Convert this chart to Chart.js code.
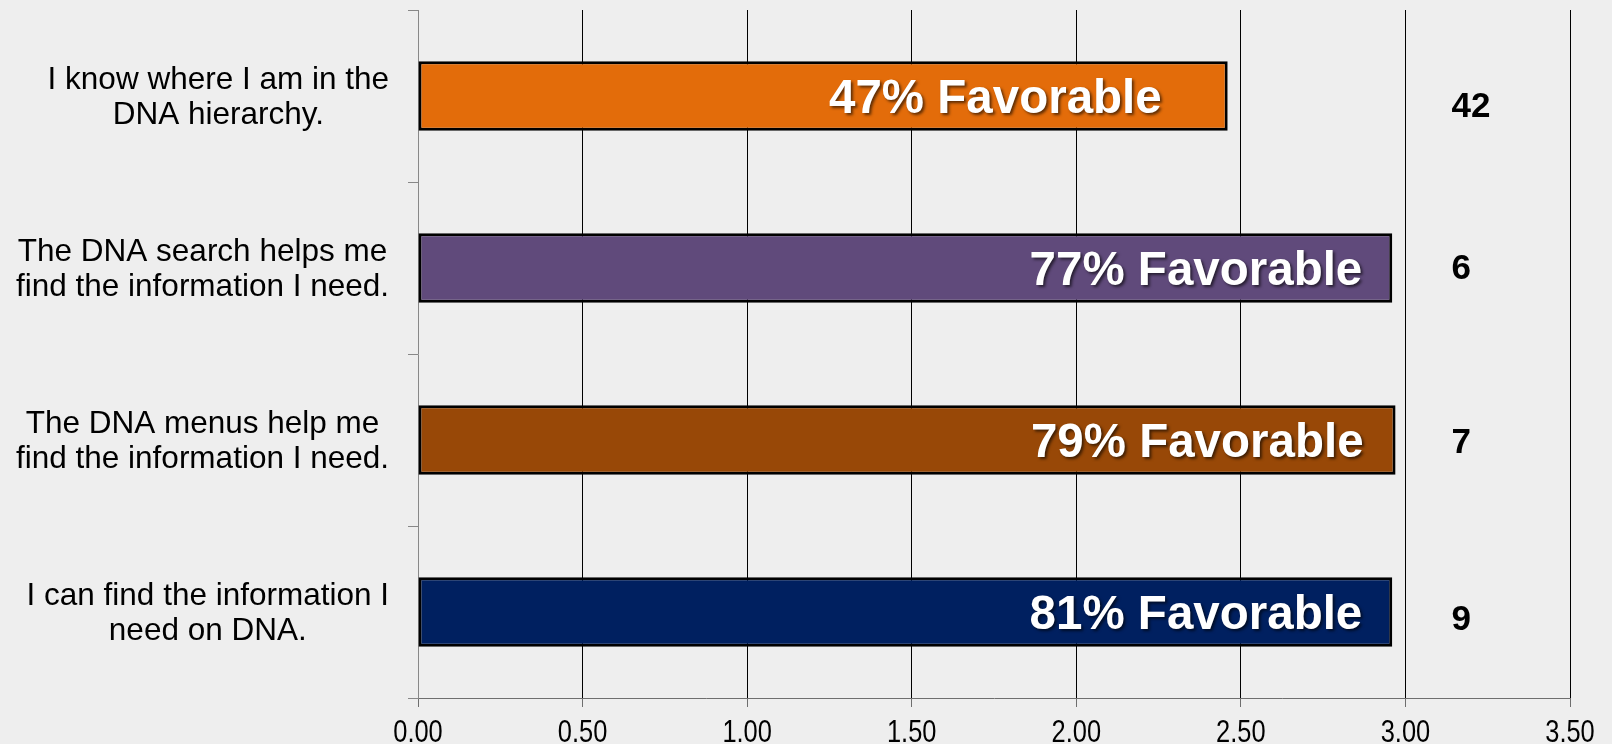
<!DOCTYPE html>
<html>
<head>
<meta charset="utf-8">
<script src="https://cdn.jsdelivr.net/npm/chart.js@4.4.1/dist/chart.umd.min.js"></script>
<style>
  html, body { margin: 0; padding: 0; background: #eeeeee; }
  #wrap { width: 1612px; height: 744px; position: relative; }
  canvas { display: block; }
</style>
</head>
<body>
<div id="wrap"><canvas id="c" width="1612" height="744"></canvas></div>
<script>
// ---- Data ----
const categories = [
  ["I know where I am in the", "DNA hierarchy."],
  ["The DNA search helps me", "find the information I need."],
  ["The DNA menus help me", "find the information I need."],
  ["I can find the information I", "need on DNA."]
];
const meanScores = [2.46, 2.96, 2.97, 2.96];
const favorableLabels = ["47% Favorable", "77% Favorable", "79% Favorable", "81% Favorable"];
const commentCounts = [42, 6, 7, 9];

// ---- Styles ----
const barColors = ["#E36C0A", "#604A7B", "#984807", "#002060"];
const labelInset = [66, 30, 32, 30];     // px from bar end to right of label text
const countDy = [8, -2, 0, 5];           // vertical nudge of the count numbers
const FONT = "'Liberation Sans', Arial, sans-serif";

const yLabelPlugin = {
  id: 'yLabels',
  afterDraw(chart) {
    const ctx = chart.ctx;
    const ys = chart.scales.y;
    ctx.save();
    ctx.font = "31.5px " + FONT;
    ctx.fillStyle = "#000";
    ctx.textAlign = "center";
    ctx.textBaseline = "alphabetic";
    categories.forEach((lines, i) => {
      const y = ys.getPixelForValue(i);
      const w = Math.max(...lines.map(l => ctx.measureText(l).width));
      const cx = 389 - w / 2;
      const offs = [-7, 28];
      lines.forEach((l, k) => ctx.fillText(l, cx, y + offs[k]));
    });
    ctx.restore();
  }
};

const xLabelPlugin = {
  id: 'xLabels',
  afterDraw(chart) {
    const ctx = chart.ctx;
    const xs = chart.scales.x;
    ctx.save();
    ctx.font = "31px " + FONT;
    ctx.fillStyle = "#000";
    ctx.textAlign = "center";
    ctx.textBaseline = "alphabetic";
    const base = chart.chartArea.bottom + 44;
    xs.ticks.forEach(t => {
      const px = xs.getPixelForValue(t.value);
      ctx.save();
      ctx.translate(px, base);
      ctx.scale(0.82, 1);
      ctx.fillText(Number(t.value).toFixed(2), 0, 0);
      ctx.restore();
    });
    ctx.restore();
  }
};

const barTextPlugin = {
  id: 'barText',
  afterDatasetsDraw(chart) {
    const ctx = chart.ctx;
    const meta = chart.getDatasetMeta(0);
    const xs = chart.scales.x;
    ctx.save();
    ctx.font = "bold 47.5px " + FONT;
    ctx.textAlign = "right";
    ctx.textBaseline = "alphabetic";
    meta.data.forEach((el, i) => {
      ctx.shadowColor = "rgba(0,0,0,0.6)";
      ctx.shadowOffsetX = 2;
      ctx.shadowOffsetY = 2;
      ctx.shadowBlur = 3;
      ctx.fillStyle = "#ffffff";
      ctx.fillText(favorableLabels[i], el.x - labelInset[i], el.y + 17);
    });
    ctx.shadowColor = "rgba(0,0,0,0)";
    ctx.shadowBlur = 0; ctx.shadowOffsetX = 0; ctx.shadowOffsetY = 0;
    ctx.font = "bold 35px " + FONT;
    ctx.textAlign = "left";
    ctx.textBaseline = "alphabetic";
    ctx.fillStyle = "#000";
    const cx = xs.getPixelForValue(3) + 46;
    meta.data.forEach((el, i) => {
      ctx.fillText(String(commentCounts[i]), cx, el.y + 12.5 + countDy[i]);
    });
    ctx.restore();
  }
};

new Chart(document.getElementById('c'), {
  type: 'bar',
  data: {
    labels: categories,
    datasets: [{
      data: meanScores,
      backgroundColor: barColors,
      borderColor: "#000",
      borderWidth: 3,
      borderSkipped: false,
      barPercentage: 0.81,
      categoryPercentage: 0.5
    }]
  },
  options: {
    indexAxis: 'y',
    responsive: false,
    animation: false,
    devicePixelRatio: 1,
    layout: { padding: { top: 10, right: 42, left: 0, bottom: 0 } },
    plugins: { legend: { display: false }, tooltip: { enabled: false } },
    scales: {
      x: {
        min: 0, max: 3.5,
        afterFit(s) { s.height = 46; },
        ticks: { stepSize: 0.5, display: false },
        grid: {
          color: c => (c.tick && c.tick.value === 0) ? 'rgba(0,0,0,0)' : '#000000',
          lineWidth: 1,
          tickLength: 9,
          tickColor: '#6e6e6e'
        },
        border: { color: '#6e6e6e', width: 1 }
      },
      y: {
        afterFit(s) { s.width = 418; },
        ticks: { display: false },
        grid: {
          offset: true,
          drawOnChartArea: false,
          tickLength: 10,
          tickColor: '#888888'
        },
        border: { color: '#888888', width: 1 }
      }
    }
  },
  plugins: [yLabelPlugin, xLabelPlugin, barTextPlugin]
});
</script>
</body>
</html>
